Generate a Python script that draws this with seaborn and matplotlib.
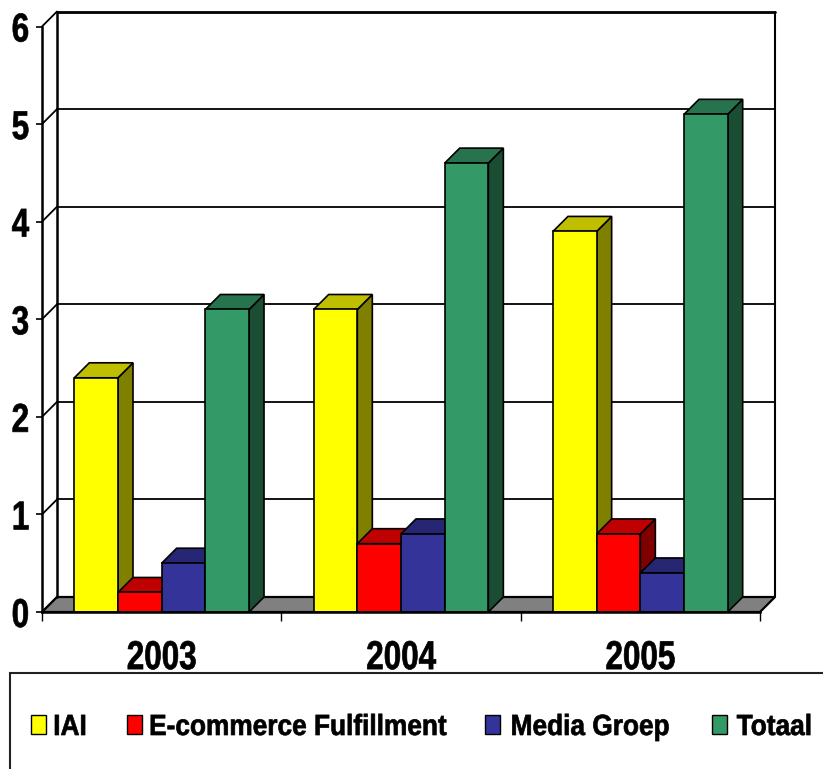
import numpy as np
import pandas as pd
import matplotlib.pyplot as plt
import matplotlib.colors as mcolors
from matplotlib.patches import Polygon, Rectangle
from matplotlib.patheffects import AbstractPathEffect
from matplotlib.transforms import Affine2D
import seaborn as sns

years = ["2003", "2004", "2005"]
series = ["IAI", "E-commerce Fulfillment", "Media Groep", "Totaal"]
iai = [2.4, 3.1, 3.9]
ecommerce = [0.2, 0.7, 0.8]
media = [0.5, 0.8, 0.4]
totaal = [3.1, 4.6, 5.1]
colors = ["#FFFF00", "#FF0000", "#333399", "#339966"]
y_ticks = [0, 1, 2, 3, 4, 5, 6]


# no narrow arial here, so squeeze the glyphs sideways around their centre
class Squeeze(AbstractPathEffect):
    def __init__(self, sx, stroke=0.5):
        super().__init__()
        self.sx = sx
        self.stroke = stroke

    def draw_path(self, renderer, gc, tpath, affine, rgbFace=None):
        box = tpath.get_extents(affine)
        cx = box.x0 + box.width / 2
        squeezed = affine + Affine2D().translate(-cx, 0).scale(self.sx, 1).translate(cx, 0)
        gc.set_linewidth(self.stroke)
        renderer.draw_path(gc, tpath, squeezed, rgbFace)


df = pd.DataFrame({
    "year": years * 4,
    "series": np.repeat(series, 3),
    "value": iai + ecommerce + media + totaal,
})

sns.set_style("white")
plt.rcParams["font.family"] = ["Liberation Sans", "DejaVu Sans"]
plt.rcParams["font.weight"] = "bold"

W, H = 823, 769
fig = plt.figure(figsize=(W / 100, H / 100), dpi=100)
# plot area in pixels of the picture
left, right, y0, y6 = 42, 760, 612, 26.5
ax = fig.add_axes([left / W, (H - y0) / H, (right - left) / W, (y0 - y6) / H])

sns.barplot(data=df, x="year", y="value", hue="series", order=years, hue_order=series,
            palette=colors, width=0.73, gap=0, edgecolor="black", linewidth=1.2,
            saturation=1, legend=False, ax=ax)

ax.set_xlim(-0.5, 2.5)
ax.set_ylim(0, 6)
ax.set_xlabel("")
ax.set_ylabel("")

# depth of the fake 3d, 15 px each way, in data units
dx = 15 * 3 / (right - left)
dy = 15 * 6 / (y0 - y6)

# floor and back wall
x_a, x_b = -0.5, 2.5
ax.add_patch(Polygon([(x_a, 0), (x_b, 0), (x_b + dx, dy), (x_a + dx, dy)],
                     facecolor="#808080", edgecolor="black", linewidth=1.6,
                     clip_on=False, zorder=1))
for v in y_ticks:
    lw = 2 if v == 6 else 1.3
    if v > 0:
        ax.plot([x_a + dx, x_b + dx], [v + dy, v + dy], color="black", lw=lw, clip_on=False, zorder=1)
    ax.plot([x_a, x_a + dx], [v, v + dy], color="black", lw=1.3, clip_on=False, zorder=1)
ax.plot([x_a + dx, x_a + dx], [dy, 6 + dy], color="black", lw=1.8, clip_on=False, zorder=1)
ax.plot([x_b + dx, x_b + dx], [dy, 6 + dy], color="black", lw=1.5, clip_on=False, zorder=1)

# side and top faces, left to right so each bar covers the one before
bars = [b for c in ax.containers for b in c]
bars.sort(key=lambda b: b.get_x())
for i, b in enumerate(bars):
    x1 = b.get_x()
    x2 = x1 + b.get_width()
    h = b.get_height()
    rgb = np.array(mcolors.to_rgb(b.get_facecolor()))
    z = 3 + i
    ax.add_patch(Polygon([(x2, 0), (x2 + dx, dy), (x2 + dx, h + dy), (x2, h)],
                         facecolor=rgb * 0.5, edgecolor="black", linewidth=1.2,
                         clip_on=False, zorder=z))
    ax.add_patch(Polygon([(x1, h), (x2, h), (x2 + dx, h + dy), (x1 + dx, h + dy)],
                         facecolor=rgb * 0.75, edgecolor="black", linewidth=1.2,
                         clip_on=False, zorder=z))
    b.set_zorder(z + 0.5)

# axes and ticks
sns.despine(ax=ax, top=True, right=True)
for s in ["left", "bottom"]:
    ax.spines[s].set_color("black")
    ax.spines[s].set_linewidth(1.8)
    ax.spines[s].set_zorder(30)
ax.set_yticks(y_ticks)
ax.set_xticks([-0.5, 0.5, 1.5, 2.5], minor=True)
ax.tick_params(axis="y", left=True, length=4.5, width=1.2, color="black", pad=3,
               labelsize=29, labelcolor="black")
ax.tick_params(axis="x", which="major", bottom=False, pad=16, labelsize=29, labelcolor="black")
ax.tick_params(axis="x", which="minor", bottom=True, length=6.5, width=1.0, color="black")
for t in ax.get_xticklabels() + ax.get_yticklabels():
    t.set_path_effects([Squeeze(0.78)])

# legend with box running off the picture
fig.add_artist(Rectangle((9.5 / W, -20 / H), 850 / W, (769 - 673 + 20) / H,
                         transform=fig.transFigure, facecolor="white",
                         edgecolor="#222222", linewidth=1.5, zorder=-1))
swatch_x = [31, 127, 485, 712]
text_x = [70, 297.5, 590, 774.5]
for name, col, sx, tx in zip(series, colors, swatch_x, text_x):
    fig.add_artist(Rectangle((sx / W, (H - 734) / H), 15 / W, 19 / H, transform=fig.transFigure,
                             facecolor=col, edgecolor="black", linewidth=1.0))
    fig.text(tx / W, (H - 735) / H, name, ha="center", va="baseline", fontsize=21,
             color="black", path_effects=[Squeeze(0.9)])

fig.savefig("out.png", dpi=100, facecolor="white")
